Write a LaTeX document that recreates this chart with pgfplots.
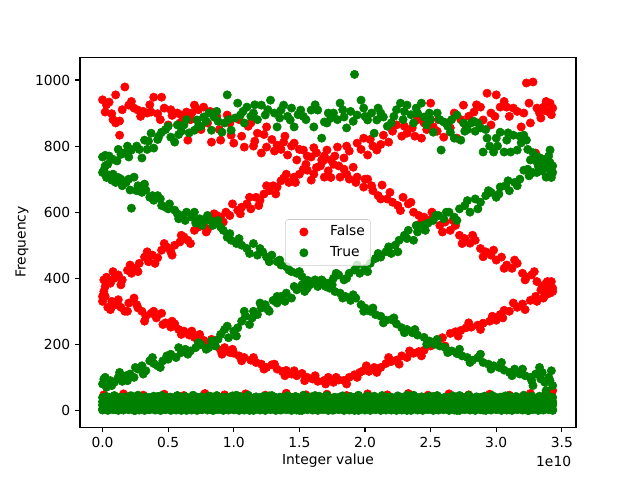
\documentclass[border=0pt]{standalone}
\usepackage{fontspec}
\setmainfont{DejaVu Sans}
\usepackage{pgfplots}
\pgfplotsset{compat=1.18}
\definecolor{mplgreen}{RGB}{0,128,0}
\definecolor{legedge}{RGB}{204,204,204}
\begin{document}
\begin{tikzpicture}
\path[use as bounding box] (0,0) rectangle (460.8bp,345.6bp);
\begin{axis}[
  at={(57.6bp,38.016bp)}, anchor=south west,
  scale only axis, width=357.12bp, height=266.112bp,
  xmin=-0.1718, xmax=3.6078, ymin=-50.85, ymax=1067.85,
  xtick={0,0.5,1,1.5,2,2.5,3,3.5},
  xticklabels={0.0,0.5,1.0,1.5,2.0,2.5,3.0,3.5},
  ytick={0,200,400,600,800,1000},
  yticklabels={0,200,400,600,800,1000},
  tick align=outside, tick pos=left,
  major tick length=3.5bp,
  every tick/.style={black, line width=0.8bp},
  axis line style={line width=0.8bp},
  ticklabel style={font=\fontsize{10}{12}\selectfont},
  legend image code/.code={\path (0bp,0bp) (18bp,0bp); \draw[#1, opacity=1, fill opacity=1, draw opacity=1] plot coordinates {(9bp,0bp)};},
  legend style={at={(0.5,0.5)}, anchor=center, draw=legedge, fill=white,
    fill opacity=0.8, draw opacity=1, text opacity=1, rounded corners=2bp,
    font=\fontsize{10}{12}\selectfont, inner xsep=4bp, inner ysep=4bp,
    row sep=5bp, column sep=9.7bp,
    nodes={inner sep=0pt, text height=7.5bp, text depth=2.5bp}},
  legend cell align=left,
]
\addplot[only marks, mark=*, mark size=3bp, color=red, mark options={draw=red, fill=red}] coordinates {
(0.00,940)(0.02,903)(0.05,933)(0.07,898)(0.10,955)(0.10,870)(0.13,876)(0.13,833)(0.17,979)(0.20,924)(0.24,915)(0.27,909)(0.31,905)(0.34,900)(0.37,903)(0.39,948)(0.42,898)(0.45,948)(0.47,915)(0.50,864)(0.53,893)(0.57,900)(0.60,894)(0.64,903)(0.67,880)(0.70,924)(0.73,910)(0.77,918)(0.65,818)(0.80,870)(0.83,812)(0.87,890)(0.90,818)(0.95,894)(0.98,833)(1.00,809)(1.04,880)(1.08,797)(1.11,860)(1.13,870)(1.15,800)(1.18,839)(1.21,779)(1.25,858)(1.25,797)(1.29,820)(1.33,803)(1.36,790)(1.38,812)(1.41,773)(1.44,800)(1.46,809)(1.48,758)(1.53,788)(1.56,770)(1.59,767)(1.63,780)(1.67,758)(1.71,788)(1.74,758)(1.79,797)(1.84,764)(1.88,785)(1.94,809)(1.99,824)(2.02,773)(2.06,800)(2.09,788)(2.14,833)(2.18,812)(2.24,864)(2.28,830)(2.32,839)(2.36,855)(2.40,880)(2.43,824)(2.47,850)(2.50,930)(2.52,858)(2.56,880)(2.60,827)(2.65,855)(2.70,824)(2.73,880)(2.75,924)(2.79,890)(2.83,903)(2.88,918)(2.90,879)(2.93,960)(2.96,900)(2.96,864)(3.00,955)(3.03,918)(3.08,918)(3.10,890)(3.13,915)(3.19,858)(3.21,900)(3.23,991)(3.26,870)(3.28,994)(3.31,915)(3.34,885)(3.36,918)(3.39,905)(3.41,930)(3.43,915)(3.30,779)
(0.03,925)(0.08,880)(0.15,910)(0.22,935)(0.29,890)(0.36,925)(0.44,880)(0.52,910)(0.59,870)(0.68,900)(0.75,850)(0.82,905)(0.89,850)(0.97,870)(1.06,830)(1.16,815)(1.23,835)(1.31,785)(1.39,830)(1.50,790)(1.61,795)(1.69,770)(1.77,770)(1.86,800)(1.97,790)(2.04,820)(2.12,805)(2.21,845)(2.30,860)(2.38,830)(2.45,870)(2.55,845)(2.63,870)(2.68,900)(2.77,860)(2.85,925)(2.99,890)(3.06,935)(3.16,905)(3.25,930)(3.33,900)(3.38,935)(3.42,895)
(0.00,345)(0.01,395)(0.03,403)(0.06,385)(0.09,400)(0.12,410)(0.15,395)(0.19,424)(0.22,415)(0.25,430)(0.28,445)(0.32,464)(0.35,450)(0.38,470)(0.42,462)(0.45,485)(0.49,494)(0.52,480)(0.55,500)(0.59,510)(0.62,525)(0.65,515)(0.70,545)(0.73,555)(0.77,560)(0.80,548)(0.84,575)(0.87,590)(0.90,585)(0.94,600)(0.97,590)(1.03,606)(1.06,615)(1.10,625)(1.13,610)(1.17,645)(1.20,636)(1.23,655)(1.27,665)(1.30,680)(1.33,676)(1.36,695)(1.38,703)(1.42,690)(1.46,706)(1.50,715)(1.53,730)(1.56,727)(1.59,697)(1.63,735)(1.66,740)(1.69,706)(1.72,725)(1.76,745)(1.81,706)(1.84,730)(1.88,700)(1.91,736)(1.94,706)(1.99,676)(2.02,700)(2.06,665)(2.10,650)(2.13,682)(2.17,640)(2.21,630)(2.25,620)(2.29,645)(2.33,625)(2.37,600)(2.41,590)(2.45,585)(2.49,576)(2.53,590)(2.57,560)(2.61,570)(2.65,545)(2.69,560)(2.72,530)(2.76,520)(2.80,506)(2.84,515)(2.88,490)(2.92,480)(2.96,470)(3.00,455)(3.04,464)(3.08,440)(3.12,430)(3.16,445)(3.20,415)(3.23,403)(3.27,410)(3.31,390)(3.35,375)(3.38,385)(3.41,355)(3.43,370)
(0.02,375)(0.08,420)(0.14,380)(0.21,440)(0.27,420)(0.34,480)(0.40,445)(0.47,505)(0.53,470)(0.60,530)(0.67,505)(0.72,565)(0.79,540)(0.85,595)(0.92,570)(0.99,625)(1.05,595)(1.12,645)(1.19,620)(1.25,680)(1.32,655)(1.40,715)(1.47,690)(1.55,745)(1.61,715)(1.68,755)(1.74,705)(1.80,740)(1.86,715)(1.93,690)(2.00,700)(2.05,680)(2.12,640)(2.19,660)(2.27,605)(2.35,630)(2.43,570)(2.51,600)(2.59,540)(2.67,575)(2.74,505)(2.82,530)(2.90,465)(2.98,485)(3.06,430)(3.14,455)(3.22,395)(3.29,420)(3.37,360)(3.42,390)
(0.00,330)(0.02,345)(0.04,312)(0.07,330)(0.10,320)(0.14,312)(0.17,300)(0.20,325)(0.24,340)(0.27,310)(0.30,300)(0.33,285)(0.37,294)(0.41,280)(0.45,294)(0.48,265)(0.52,252)(0.55,262)(0.58,245)(0.62,240)(0.66,228)(0.70,221)(0.74,230)(0.77,212)(0.81,200)(0.85,205)(0.90,182)(0.93,190)(0.97,175)(1.00,173)(1.04,165)(1.08,160)(1.13,152)(1.17,145)(1.21,140)(1.25,130)(1.29,138)(1.33,125)(1.37,118)(1.40,121)(1.44,110)(1.48,105)(1.52,112)(1.56,100)(1.60,95)(1.64,88)(1.69,91)(1.72,100)(1.76,85)(1.80,92)(1.84,91)(1.88,100)(1.92,108)(1.96,115)(1.99,121)(2.03,118)(2.07,130)(2.12,130)(2.16,142)(2.20,148)(2.24,152)(2.28,165)(2.32,160)(2.37,173)(2.41,178)(2.45,182)(2.50,195)(2.55,212)(2.59,220)(2.65,233)(2.69,238)(2.73,242)(2.77,250)(2.81,252)(2.86,258)(2.90,264)(2.95,270)(3.00,273)(3.03,290)(3.06,303)(3.10,300)(3.16,312)(3.20,322)(3.26,333)(3.30,345)(3.34,364)(3.38,350)(3.41,373)(3.43,360)
(0.01,360)(0.06,305)(0.12,335)(0.19,300)(0.26,320)(0.32,270)(0.39,300)(0.46,260)(0.53,270)(0.60,230)(0.68,240)(0.75,200)(0.83,215)(0.91,170)(0.99,185)(1.06,150)(1.15,160)(1.23,125)(1.31,140)(1.39,105)(1.46,120)(1.54,90)(1.62,105)(1.70,80)(1.78,100)(1.86,80)(1.94,100)(2.01,135)(2.09,115)(2.18,160)(2.26,140)(2.34,180)(2.43,165)(2.52,205)(2.61,195)(2.71,225)(2.79,265)(2.88,245)(2.97,285)(3.05,280)(3.13,325)(3.22,305)(3.31,330)(3.39,390)(3.36,340)
(0.01,47)(0.16,50)(0.31,46)(0.47,49)(0.62,45)(0.78,51)(0.93,47)(1.09,50)(1.24,46)(1.40,52)(1.55,47)(1.71,49)(1.86,45)(2.02,50)(2.17,47)(2.33,51)(2.48,46)(2.64,50)(2.79,47)(2.95,49)(3.10,46)(3.26,51)(3.38,55)(3.43,60)
};
\addlegendentry{False}
\addplot[only marks, mark=*, mark size=3bp, color=mplgreen, mark options={draw=mplgreen, fill=mplgreen}] coordinates {
(0.00,767)(0.02,772)(0.05,770)(0.08,760)(0.11,755)(0.14,775)(0.17,780)(0.20,767)(0.22,788)(0.26,800)(0.30,764)(0.32,818)(0.35,815)(0.37,839)(0.39,794)(0.42,820)(0.45,842)(0.48,850)(0.52,827)(0.55,812)(0.57,864)(0.60,845)(0.62,864)(0.66,840)(0.70,848)(0.72,879)(0.75,860)(0.77,888)(0.81,900)(0.83,848)(0.85,888)(0.88,875)(0.91,842)(0.93,870)(0.95,955)(0.98,848)(1.01,885)(1.03,930)(1.05,894)(1.08,870)(1.10,918)(1.13,890)(1.15,900)(1.18,880)(1.21,924)(1.24,894)(1.28,939)(1.31,900)(1.33,858)(1.36,909)(1.38,924)(1.41,890)(1.43,879)(1.46,858)(1.49,895)(1.51,909)(1.55,880)(1.59,909)(1.61,858)(1.64,909)(1.67,824)(1.69,873)(1.71,870)(1.74,885)(1.76,900)(1.79,880)(1.81,930)(1.84,888)(1.86,855)(1.89,905)(1.92,1017)(1.94,894)(1.97,939)(1.99,915)(2.02,879)(2.05,900)(2.07,839)(2.09,879)(2.12,900)(2.14,888)(2.17,860)(2.20,870)(2.24,910)(2.27,930)(2.30,905)(2.32,924)(2.35,895)(2.37,870)(2.40,900)(2.43,930)(2.45,888)(2.47,864)(2.50,880)(2.52,842)(2.55,900)(2.58,788)(2.60,873)(2.63,860)(2.65,842)(2.68,824)(2.70,894)(2.73,818)(2.75,870)(2.78,850)(2.81,870)(2.84,845)(2.86,870)(2.88,855)(2.90,782)(2.93,824)(2.95,800)(2.98,782)(3.00,824)(3.03,842)(3.06,782)(3.08,818)(3.11,782)(3.13,833)(3.16,788)(3.19,810)(3.21,833)(3.23,818)(3.26,758)(3.28,780)(3.31,752)(3.33,765)(3.36,736)(3.38,706)(3.41,727)(3.41,788)(3.43,740)
(0.04,745)(0.12,790)(0.19,800)(0.28,790)(0.34,790)(0.43,830)(0.50,860)(0.58,835)(0.64,880)(0.73,860)(0.79,875)(0.87,905)(0.96,880)(1.07,905)(1.16,925)(1.26,910)(1.35,885)(1.44,915)(1.53,890)(1.62,925)(1.72,900)(1.83,910)(1.91,875)(2.00,890)(2.10,915)(2.22,890)(2.29,880)(2.39,915)(2.49,900)(2.57,880)(2.66,880)(2.76,845)(2.83,875)(2.92,850)(3.01,800)(3.09,840)(3.18,830)(3.24,790)(3.30,770)(3.35,760)(3.40,770)
(0.00,720)(0.01,727)(0.03,705)(0.05,712)(0.07,697)(0.10,690)(0.12,705)(0.15,680)(0.18,690)(0.21,667)(0.22,612)(0.24,706)(0.27,680)(0.30,660)(0.33,667)(0.36,645)(0.39,636)(0.42,650)(0.45,620)(0.48,615)(0.51,625)(0.55,606)(0.58,580)(0.61,590)(0.64,600)(0.68,585)(0.71,567)(0.74,580)(0.77,575)(0.80,590)(0.84,560)(0.88,575)(0.92,545)(0.95,524)(0.98,515)(1.02,505)(1.06,500)(1.10,490)(1.15,505)(1.18,470)(1.22,480)(1.25,464)(1.29,470)(1.33,450)(1.36,440)(1.40,435)(1.44,420)(1.48,415)(1.52,405)(1.56,394)(1.60,390)(1.65,385)(1.69,380)(1.73,370)(1.77,360)(1.81,355)(1.85,345)(1.89,333)(1.93,340)(1.97,320)(2.00,310)(2.04,300)(2.08,290)(2.12,285)(2.16,273)(2.20,275)(2.24,262)(2.28,250)(2.32,245)(2.36,235)(2.40,228)(2.45,221)(2.49,210)(2.53,200)(2.57,195)(2.61,190)(2.66,180)(2.70,172)(2.74,165)(2.78,160)(2.82,152)(2.86,160)(2.90,145)(2.94,140)(2.98,135)(3.02,130)(3.06,122)(3.10,115)(3.14,125)(3.18,110)(3.22,105)(3.26,100)(3.30,110)(3.34,95)(3.37,85)(3.40,100)(3.43,75)(3.42,120)(3.38,60)(3.33,130)(3.28,75)
(0.02,740)(0.08,715)(0.14,700)(0.20,700)(0.26,665)(0.32,685)(0.38,650)(0.44,640)(0.50,610)(0.57,595)(0.63,575)(0.70,600)(0.76,560)(0.82,575)(0.90,555)(0.97,535)(1.04,520)(1.12,475)(1.20,490)(1.27,450)(1.35,455)(1.42,425)(1.50,420)(1.58,380)(1.67,395)(1.75,380)(1.83,340)(1.91,350)(1.99,300)(2.06,310)(2.14,265)(2.22,280)(2.30,235)(2.38,245)(2.47,200)(2.55,215)(2.63,175)(2.72,185)(2.80,145)(2.88,170)(2.96,125)(3.04,145)(3.12,105)(3.20,125)(3.27,90)(3.35,115)(3.41,90)
(0.00,80)(0.01,95)(0.03,70)(0.06,90)(0.09,85)(0.12,100)(0.15,88)(0.18,105)(0.21,110)(0.24,100)(0.27,125)(0.30,135)(0.33,120)(0.36,150)(0.39,142)(0.42,135)(0.46,150)(0.49,165)(0.52,170)(0.56,160)(0.60,175)(0.63,185)(0.67,180)(0.71,190)(0.75,200)(0.79,185)(0.83,210)(0.86,195)(0.90,230)(0.93,245)(0.96,220)(1.00,240)(1.03,250)(1.06,270)(1.09,285)(1.12,260)(1.15,300)(1.18,290)(1.21,310)(1.24,320)(1.27,300)(1.30,333)(1.33,325)(1.36,345)(1.40,355)(1.44,340)(1.48,365)(1.52,380)(1.56,370)(1.60,385)(1.64,375)(1.68,390)(1.72,385)(1.76,400)(1.80,410)(1.84,395)(1.88,415)(1.92,425)(1.96,415)(2.00,430)(2.04,445)(2.08,460)(2.12,464)(2.16,480)(2.20,475)(2.23,500)(2.26,515)(2.30,530)(2.33,545)(2.37,515)(2.40,540)(2.44,560)(2.48,567)(2.52,575)(2.56,590)(2.60,580)(2.64,600)(2.68,585)(2.72,610)(2.76,620)(2.80,600)(2.84,640)(2.88,630)(2.92,650)(2.96,660)(3.00,645)(3.03,676)(3.07,680)(3.10,665)(3.14,690)(3.18,700)(3.21,727)(3.25,710)(3.28,720)(3.32,740)(3.35,725)(3.38,760)(3.41,750)(3.43,720)
(0.02,100)(0.07,75)(0.13,115)(0.19,90)(0.25,130)(0.31,110)(0.38,160)(0.44,130)(0.50,155)(0.58,190)(0.65,170)(0.73,205)(0.81,190)(0.88,215)(0.95,255)(1.02,225)(1.08,300)(1.14,280)(1.20,325)(1.26,305)(1.33,345)(1.39,330)(1.46,375)(1.54,360)(1.62,395)(1.70,375)(1.78,415)(1.86,400)(1.94,440)(2.02,420)(2.10,475)(2.18,495)(2.25,480)(2.32,520)(2.39,560)(2.46,545)(2.54,590)(2.62,600)(2.70,575)(2.78,635)(2.86,610)(2.94,665)(3.02,655)(3.09,695)(3.16,680)(3.24,730)(3.31,720)(3.37,745)(3.42,705)
(0.00,4)(0.05,10)(0.10,2)(0.15,13)(0.20,6)(0.25,0)(0.30,9)(0.35,3)(0.40,14)(0.45,1)(0.50,7)(0.55,11)(0.60,0)(0.65,5)(0.70,12)(0.75,3)(0.80,9)(0.85,1)(0.90,8)(0.95,14)(1.00,2)(1.05,6)(1.10,10)(1.15,0)(1.20,4)(1.25,13)(1.30,7)(1.35,2)(1.40,11)(1.45,5)(1.50,0)(1.55,9)(1.60,3)(1.65,14)(1.70,6)(1.75,1)(1.80,10)(1.85,4)(1.90,12)(1.95,0)(2.00,8)(2.05,3)(2.10,13)(2.15,5)(2.20,1)(2.25,10)(2.30,6)(2.35,0)(2.40,12)(2.45,4)(2.50,9)(2.55,2)(2.60,14)(2.65,7)(2.70,0)(2.75,11)(2.80,3)(2.85,8)(2.90,1)(2.95,13)(3.00,5)(3.05,10)(3.10,2)(3.15,7)(3.20,12)(3.25,0)(3.30,9)(3.35,4)(3.40,11)(3.43,2)
(0.02,30)(0.07,40)(0.12,26)(0.17,36)(0.22,44)(0.27,28)(0.32,38)(0.37,24)(0.42,42)(0.47,32)(0.52,27)(0.57,45)(0.62,35)(0.67,25)(0.72,40)(0.77,30)(0.82,43)(0.87,26)(0.92,37)(0.97,31)(1.02,46)(1.07,28)(1.12,39)(1.17,24)(1.22,34)(1.27,44)(1.32,29)(1.37,38)(1.42,25)(1.47,41)(1.52,33)(1.57,27)(1.62,45)(1.67,31)(1.72,37)(1.77,24)(1.82,42)(1.87,30)(1.92,36)(1.97,26)(2.02,44)(2.07,33)(2.12,28)(2.17,40)(2.22,25)(2.27,38)(2.32,46)(2.37,30)(2.42,35)(2.47,27)(2.52,42)(2.57,32)(2.62,24)(2.67,39)(2.72,45)(2.77,29)(2.82,36)(2.87,26)(2.92,41)(2.97,33)(3.02,28)(3.07,44)(3.12,31)(3.17,38)(3.22,25)(3.27,43)(3.32,34)(3.37,29)(3.41,40)(3.43,22)
(0.00,1)(0.04,0)(0.08,2)(0.12,0)(0.16,1)(0.20,2)(0.24,0)(0.28,1)(0.32,0)(0.36,2)(0.40,1)(0.44,0)(0.48,2)(0.52,0)(0.56,1)(0.60,2)(0.64,0)(0.68,1)(0.72,0)(0.76,2)(0.80,1)(0.84,0)(0.88,2)(0.92,0)(0.96,1)(1.00,2)(1.04,0)(1.08,1)(1.12,0)(1.16,2)(1.20,1)(1.24,0)(1.28,2)(1.32,0)(1.36,1)(1.40,2)(1.44,0)(1.48,1)(1.52,0)(1.56,2)(1.60,1)(1.64,0)(1.68,2)(1.72,0)(1.76,1)(1.80,2)(1.84,0)(1.88,1)(1.92,0)(1.96,2)(2.00,1)(2.04,0)(2.08,2)(2.12,0)(2.16,1)(2.20,2)(2.24,0)(2.28,1)(2.32,0)(2.36,2)(2.40,1)(2.44,0)(2.48,2)(2.52,0)(2.56,1)(2.60,2)(2.64,0)(2.68,1)(2.72,0)(2.76,2)(2.80,1)(2.84,0)(2.88,2)(2.92,0)(2.96,1)(3.00,2)(3.04,0)(3.08,1)(3.12,0)(3.16,2)(3.20,1)(3.24,0)(3.28,2)(3.32,0)(3.36,1)(3.40,2)(3.43,0)
(0.02,6)(0.06,7)(0.10,5)(0.14,6)(0.18,7)(0.22,5)(0.26,6)(0.30,7)(0.34,5)(0.38,6)(0.42,7)(0.46,5)(0.50,6)(0.54,7)(0.58,5)(0.62,6)(0.66,7)(0.70,5)(0.74,6)(0.78,7)(0.82,5)(0.86,6)(0.90,7)(0.94,5)(0.98,6)(1.02,7)(1.06,5)(1.10,6)(1.14,7)(1.18,5)(1.22,6)(1.26,7)(1.30,5)(1.34,6)(1.38,7)(1.42,5)(1.46,6)(1.50,7)(1.54,5)(1.58,6)(1.62,7)(1.66,5)(1.70,6)(1.74,7)(1.78,5)(1.82,6)(1.86,7)(1.90,5)(1.94,6)(1.98,7)(2.02,5)(2.06,6)(2.10,7)(2.14,5)(2.18,6)(2.22,7)(2.26,5)(2.30,6)(2.34,7)(2.38,5)(2.42,6)(2.46,7)(2.50,5)(2.54,6)(2.58,7)(2.62,5)(2.66,6)(2.70,7)(2.74,5)(2.78,6)(2.82,7)(2.86,5)(2.90,6)(2.94,7)(2.98,5)(3.02,6)(3.06,7)(3.10,5)(3.14,6)(3.18,7)(3.22,5)(3.26,6)(3.30,7)(3.34,5)(3.38,6)(3.42,7)
(0.02,11)(0.06,10)(0.10,12)(0.14,10)(0.18,11)(0.22,12)(0.26,10)(0.30,11)(0.34,10)(0.38,12)(0.42,11)(0.46,10)(0.50,12)(0.54,10)(0.58,11)(0.62,12)(0.66,10)(0.70,11)(0.74,10)(0.78,12)(0.82,11)(0.86,10)(0.90,12)(0.94,10)(0.98,11)(1.02,12)(1.06,10)(1.10,11)(1.14,10)(1.18,12)(1.22,11)(1.26,10)(1.30,12)(1.34,10)(1.38,11)(1.42,12)(1.46,10)(1.50,11)(1.54,10)(1.58,12)(1.62,11)(1.66,10)(1.70,12)(1.74,10)(1.78,11)(1.82,12)(1.86,10)(1.90,11)(1.94,10)(1.98,12)(2.02,11)(2.06,10)(2.10,12)(2.14,10)(2.18,11)(2.22,12)(2.26,10)(2.30,11)(2.34,10)(2.38,12)(2.42,11)(2.46,10)(2.50,12)(2.54,10)(2.58,11)(2.62,12)(2.66,10)(2.70,11)(2.74,10)(2.78,12)(2.82,11)(2.86,10)(2.90,12)(2.94,10)(2.98,11)(3.02,12)(3.06,10)(3.10,11)(3.14,10)(3.18,12)(3.22,11)(3.26,10)(3.30,12)(3.34,10)(3.38,11)(3.42,12)
(0.00,16)(0.04,15)(0.08,17)(0.12,16)(0.16,15)(0.20,17)(0.24,16)(0.28,15)(0.32,17)(0.36,16)(0.40,15)(0.44,17)(0.48,16)(0.52,15)(0.56,17)(0.60,16)(0.64,15)(0.68,17)(0.72,16)(0.76,15)(0.80,17)(0.84,16)(0.88,15)(0.92,17)(0.96,16)(1.00,15)(1.04,17)(1.08,16)(1.12,15)(1.16,17)(1.20,16)(1.24,15)(1.28,17)(1.32,16)(1.36,15)(1.40,17)(1.44,16)(1.48,15)(1.52,17)(1.56,16)(1.60,15)(1.64,17)(1.68,16)(1.72,15)(1.76,17)(1.80,16)(1.84,15)(1.88,17)(1.92,16)(1.96,15)(2.00,17)(2.04,16)(2.08,15)(2.12,17)(2.16,16)(2.20,15)(2.24,17)(2.28,16)(2.32,15)(2.36,17)(2.40,16)(2.44,15)(2.48,17)(2.52,16)(2.56,15)(2.60,17)(2.64,16)(2.68,15)(2.72,17)(2.76,16)(2.80,15)(2.84,17)(2.88,16)(2.92,15)(2.96,17)(3.00,16)(3.04,15)(3.08,17)(3.12,16)(3.16,15)(3.20,17)(3.24,16)(3.28,15)(3.32,17)(3.36,16)(3.40,15)(3.43,16)
(0.01,19)(0.05,21)(0.09,17)(0.13,20)(0.17,22)(0.21,18)(0.25,20)(0.29,21)(0.33,17)(0.37,19)(0.41,22)(0.45,18)(0.49,20)(0.53,21)(0.57,17)(0.61,19)(0.65,22)(0.69,18)(0.73,20)(0.77,21)(0.81,17)(0.85,19)(0.89,22)(0.93,18)(0.97,20)(1.01,21)(1.05,17)(1.09,19)(1.13,22)(1.17,18)(1.21,20)(1.25,21)(1.29,17)(1.33,19)(1.37,22)(1.41,18)(1.45,20)(1.49,21)(1.53,17)(1.57,19)(1.61,22)(1.65,18)(1.69,20)(1.73,21)(1.77,17)(1.81,19)(1.85,22)(1.89,18)(1.93,20)(1.97,21)(2.01,17)(2.05,19)(2.09,22)(2.13,18)(2.17,20)(2.21,21)(2.25,17)(2.29,19)(2.33,22)(2.37,18)(2.41,20)(2.45,21)(2.49,17)(2.53,19)(2.57,22)(2.61,18)(2.65,20)(2.69,21)(2.73,17)(2.77,19)(2.81,22)(2.85,18)(2.89,20)(2.93,21)(2.97,17)(3.01,19)(3.05,22)(3.09,18)(3.13,20)(3.17,21)(3.21,17)(3.25,19)(3.29,22)(3.33,18)(3.37,20)(3.41,21)
(0.00,26)(0.04,27)(0.08,25)(0.12,26)(0.16,27)(0.20,25)(0.24,26)(0.28,27)(0.32,25)(0.36,26)(0.40,27)(0.44,25)(0.48,26)(0.52,27)(0.56,25)(0.60,26)(0.64,27)(0.68,25)(0.72,26)(0.76,27)(0.80,25)(0.84,26)(0.88,27)(0.92,25)(0.96,26)(1.00,27)(1.04,25)(1.08,26)(1.12,27)(1.16,25)(1.20,26)(1.24,27)(1.28,25)(1.32,26)(1.36,27)(1.40,25)(1.44,26)(1.48,27)(1.52,25)(1.56,26)(1.60,27)(1.64,25)(1.68,26)(1.72,27)(1.76,25)(1.80,26)(1.84,27)(1.88,25)(1.92,26)(1.96,27)(2.00,25)(2.04,26)(2.08,27)(2.12,25)(2.16,26)(2.20,27)(2.24,25)(2.28,26)(2.32,27)(2.36,25)(2.40,26)(2.44,27)(2.48,25)(2.52,26)(2.56,27)(2.60,25)(2.64,26)(2.68,27)(2.72,25)(2.76,26)(2.80,27)(2.84,25)(2.88,26)(2.92,27)(2.96,25)(3.00,26)(3.04,27)(3.08,25)(3.12,26)(3.16,27)(3.20,25)(3.24,26)(3.28,27)(3.32,25)(3.36,26)(3.40,27)(3.43,26)
(0.02,32)(0.06,36)(0.10,29)(0.14,34)(0.18,38)(0.22,30)(0.26,33)(0.30,37)(0.34,28)(0.38,35)(0.42,31)(0.46,36)(0.50,29)(0.54,38)(0.58,32)(0.62,34)(0.66,30)(0.70,37)(0.74,33)(0.78,28)(0.82,36)(0.86,31)(0.90,38)(0.94,30)(0.98,34)(1.02,29)(1.06,37)(1.10,32)(1.14,35)(1.18,28)(1.22,38)(1.26,31)(1.30,36)(1.34,30)(1.38,34)(1.42,37)(1.46,29)(1.50,33)(1.54,38)(1.58,31)(1.62,35)(1.66,28)(1.70,37)(1.74,32)(1.78,36)(1.82,30)(1.86,34)(1.90,38)(1.94,29)(1.98,33)(2.02,37)(2.06,31)(2.10,35)(2.14,28)(2.18,38)(2.22,32)(2.26,36)(2.30,30)(2.34,34)(2.38,37)(2.42,29)(2.46,33)(2.50,38)(2.54,31)(2.58,35)(2.62,28)(2.66,37)(2.70,32)(2.74,36)(2.78,30)(2.82,34)(2.86,38)(2.90,29)(2.94,33)(2.98,37)(3.02,31)(3.06,35)(3.10,28)(3.14,38)(3.18,32)(3.22,36)(3.26,30)(3.30,34)(3.34,37)(3.38,31)(3.42,35)
(0.00,39)(0.04,40)(0.08,38)(0.12,39)(0.16,40)(0.20,38)(0.24,39)(0.28,40)(0.32,38)(0.36,39)(0.40,40)(0.44,38)(0.48,39)(0.52,40)(0.56,38)(0.60,39)(0.64,40)(0.68,38)(0.72,39)(0.76,40)(0.80,38)(0.84,39)(0.88,40)(0.92,38)(0.96,39)(1.00,40)(1.04,38)(1.08,39)(1.12,40)(1.16,38)(1.20,39)(1.24,40)(1.28,38)(1.32,39)(1.36,40)(1.40,38)(1.44,39)(1.48,40)(1.52,38)(1.56,39)(1.60,40)(1.64,38)(1.68,39)(1.72,40)(1.76,38)(1.80,39)(1.84,40)(1.88,38)(1.92,39)(1.96,40)(2.00,38)(2.04,39)(2.08,40)(2.12,38)(2.16,39)(2.20,40)(2.24,38)(2.28,39)(2.32,40)(2.36,38)(2.40,39)(2.44,40)(2.48,38)(2.52,39)(2.56,40)(2.60,38)(2.64,39)(2.68,40)(2.72,38)(2.76,39)(2.80,40)(2.84,38)(2.88,39)(2.92,40)(2.96,38)(3.00,39)(3.04,40)(3.08,38)(3.12,39)(3.16,40)(3.20,38)(3.24,39)(3.28,40)(3.32,38)(3.36,39)(3.40,40)(3.43,39)
(0.03,42)(0.09,45)(0.15,40)(0.21,44)(0.27,46)(0.33,41)(0.39,43)(0.45,45)(0.51,40)(0.57,44)(0.63,42)(0.69,46)(0.75,41)(0.81,43)(0.87,45)(0.93,40)(0.99,44)(1.05,42)(1.11,46)(1.17,41)(1.23,43)(1.29,45)(1.35,40)(1.41,44)(1.47,42)(1.53,46)(1.59,41)(1.65,43)(1.71,45)(1.77,40)(1.83,44)(1.89,42)(1.95,46)(2.01,41)(2.07,43)(2.13,45)(2.19,40)(2.25,44)(2.31,42)(2.37,46)(2.43,41)(2.49,43)(2.55,45)(2.61,40)(2.67,44)(2.73,42)(2.79,46)(2.85,41)(2.91,43)(2.97,45)(3.03,40)(3.09,44)(3.15,42)(3.21,46)(3.27,41)(3.33,43)(3.39,45)
};
\addlegendentry{True}
\end{axis}
\node at (236.16bp,13.68bp) {Integer value};
\node[rotate=90] at (15.84bp,171.36bp) {Frequency};
\node[anchor=east] at (414.72bp,13.68bp) {1e10};
\end{tikzpicture}
\end{document}
